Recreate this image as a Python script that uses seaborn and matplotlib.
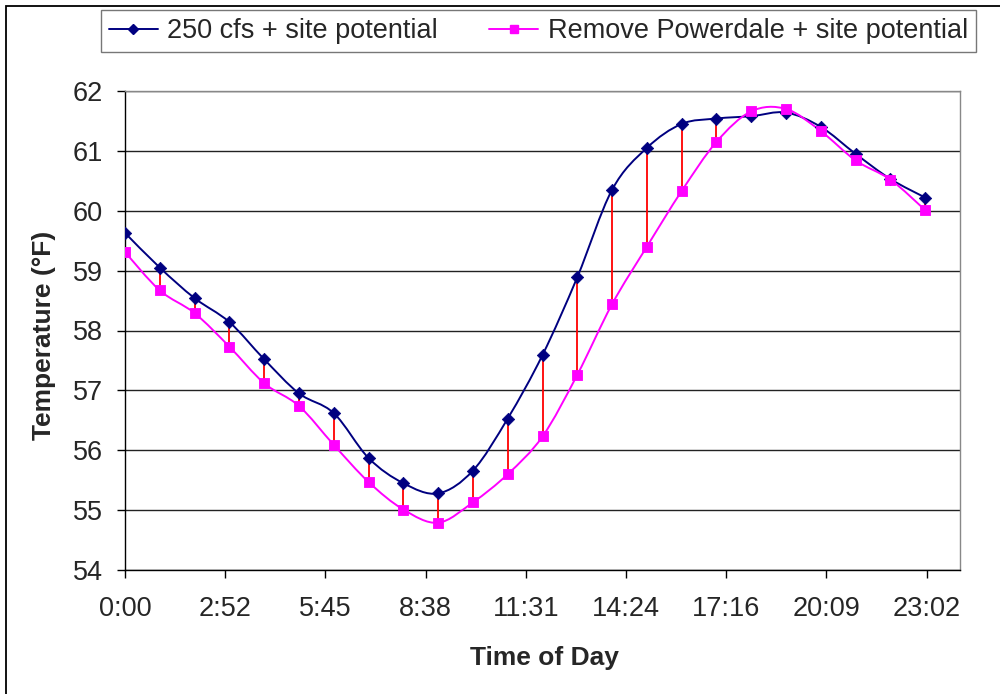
import numpy as np
import pandas as pd
import matplotlib
matplotlib.use("Agg")
import matplotlib.pyplot as plt
import seaborn as sns
from matplotlib.path import Path
from matplotlib.patches import PathPatch, Rectangle
from matplotlib.lines import Line2D

# Dados (temperatura horária, °F)
horas = list(range(24))
temp_250cfs = [59.63, 59.05, 58.54, 58.14, 57.52, 56.95, 56.62, 55.87, 55.45, 55.28,
               55.66, 56.53, 57.59, 58.89, 60.35, 61.05, 61.45, 61.54, 61.58, 61.64,
               61.40, 60.95, 60.53, 60.22]
temp_powerdale = [59.31, 58.67, 58.29, 57.73, 57.12, 56.74, 56.09, 55.47, 55.01, 54.79,
                  55.13, 55.60, 56.23, 57.26, 58.44, 59.40, 60.33, 61.15, 61.66, 61.70,
                  61.33, 60.84, 60.52, 60.01]
nomes_series = ["250 cfs + site potential", "Remove Powerdale + site potential"]
ticks_x = [0, 0.12, 0.24, 0.36, 0.48, 0.60, 0.72, 0.84, 0.96]   # fração do dia
labels_x = ["0:00", "2:52", "5:45", "8:38", "11:31", "14:24", "17:16", "20:09", "23:02"]
ticks_y = [54, 55, 56, 57, 58, 59, 60, 61, 62]

AZUL = "#000080"
ROSA = "#FF00FF"
VERMELHO = "#FF0000"


def criaDataFrame():
    dt = pd.DataFrame({"dia": np.array(horas) / 24.0,
                       "cfs": temp_250cfs,
                       "powerdale": temp_powerdale})
    return dt


# curva suavizada estilo Excel (Bezier entre os pontos)
def curvaSuave(ax, x, y, cor):
    x = np.asarray(x, float)
    y = np.asarray(y, float)
    n = len(x)
    verts = [(x[0], y[0])]
    codes = [Path.MOVETO]
    for i in range(n - 1):
        a = max(i - 1, 0)
        b = min(i + 2, n - 1)
        c1 = (x[i] + (x[i + 1] - x[a]) / 6, y[i] + (y[i + 1] - y[a]) / 6)
        c2 = (x[i + 1] - (x[b] - x[i]) / 6, y[i + 1] - (y[b] - y[i]) / 6)
        verts += [c1, c2, (x[i + 1], y[i + 1])]
        codes += [Path.CURVE4] * 3
    ax.add_patch(PathPatch(Path(verts, codes), fill=False, edgecolor=cor, lw=1.4, zorder=3))


def geraGrafico(dt):
    sns.set_style("white")
    plt.rcParams["font.family"] = ["Liberation Sans", "DejaVu Sans"]

    fig = plt.figure(figsize=(10, 6.94), dpi=100)
    ax = fig.add_axes([0.125, 1 - 570 / 694, 0.835, 479 / 694])

    # linhas verticais entre as séries
    ax.vlines(dt["dia"], dt["powerdale"], dt["cfs"], color=VERMELHO, lw=1.3, zorder=2)

    curvaSuave(ax, dt["dia"], dt["cfs"], AZUL)
    curvaSuave(ax, dt["dia"], dt["powerdale"], ROSA)

    sns.scatterplot(data=dt, x="dia", y="cfs", marker="D", s=40, color=AZUL,
                    edgecolor=AZUL, ax=ax, zorder=4)
    sns.scatterplot(data=dt, x="dia", y="powerdale", marker="s", s=60, color=ROSA,
                    edgecolor=ROSA, ax=ax, zorder=4)

    ax.set_xlim(0, 1)
    ax.set_ylim(54, 62)
    ax.set_xticks(ticks_x)
    ax.set_xticklabels(labels_x)
    ax.set_yticks(ticks_y)
    ax.yaxis.grid(True, color="#222222", lw=1)
    ax.set_axisbelow(True)

    ax.tick_params(axis="both", direction="out", length=6, width=1, color="black",
                   labelsize=19.5, bottom=True, left=True)
    ax.tick_params(axis="x", pad=13)
    ax.tick_params(axis="y", pad=10)

    for s in ["left", "bottom"]:
        ax.spines[s].set_color("black")
        ax.spines[s].set_linewidth(1)
    for s in ["top", "right"]:
        ax.spines[s].set_color("#888888")
        ax.spines[s].set_linewidth(1)

    ax.set_xlabel("Time of Day", fontsize=19, fontweight="bold")
    ax.set_ylabel("Temperature (°F)", fontsize=19, fontweight="bold")
    ax.xaxis.set_label_coords(0.502, -0.158)
    ax.yaxis.set_label_coords(-0.083, 0.49)

    handles = [Line2D([], [], color=AZUL, marker="D", markersize=5, lw=1.4),
               Line2D([], [], color=ROSA, marker="s", markersize=6, lw=1.4)]
    leg = fig.legend(handles, nomes_series, loc="center", ncol=2,
                     bbox_to_anchor=(0.5385, 1 - 31 / 694), fontsize=19.5,
                     frameon=True, fancybox=False, edgecolor="#555555",
                     handlelength=1.8, handletextpad=0.35, columnspacing=1.9,
                     borderpad=0.3)
    leg.get_frame().set_linewidth(1)

    # moldura externa do gráfico
    fig.patches.append(Rectangle((6 / 1000, -0.1), 1.2, (694 - 6) / 694 + 0.1,
                                 transform=fig.transFigure, fill=False,
                                 edgecolor="black", lw=1.3))

    fig.savefig("out.png", dpi=100)


def main():
    dt = criaDataFrame()
    geraGrafico(dt)


if __name__ == '__main__':
    main()
